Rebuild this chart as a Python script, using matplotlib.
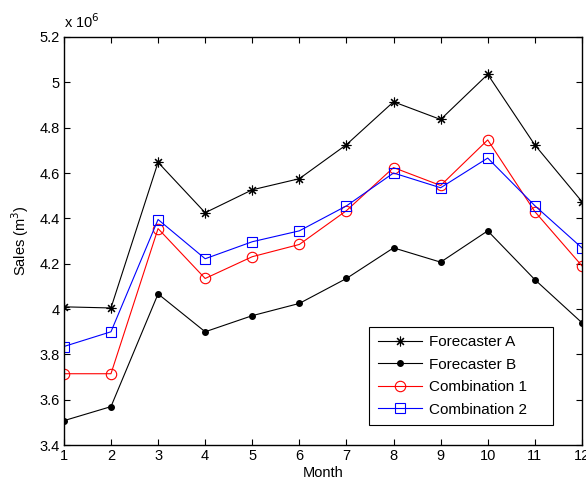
import numpy as np
import matplotlib
matplotlib.use("Agg")
import matplotlib.pyplot as plt
from matplotlib.ticker import FuncFormatter

plt.rcParams['font.family'] = ['Liberation Sans', 'DejaVu Sans']

# sales in units of 1e6 m^3
months = np.arange(1, 13)
forecaster_a = [4.01, 4.005, 4.647, 4.425, 4.526, 4.575, 4.725, 4.914, 4.836, 5.035, 4.724, 4.474]
forecaster_b = [3.508, 3.57, 4.067, 3.90, 3.971, 4.025, 4.135, 4.27, 4.207, 4.345, 4.13, 3.94]
combination_1 = [3.715, 3.715, 4.355, 4.135, 4.231, 4.285, 4.434, 4.624, 4.545, 4.746, 4.43, 4.191]
combination_2 = [3.835, 3.90, 4.395, 4.222, 4.297, 4.345, 4.455, 4.60, 4.535, 4.666, 4.456, 4.27]
series_names = ['Forecaster A', 'Forecaster B', 'Combination 1', 'Combination 2']

fig = plt.figure(figsize=(5.86, 4.86), dpi=100)
ax = fig.add_axes([0.109, 0.084, 0.884, 0.840])

ax.plot(months, forecaster_a, color='black', lw=0.8, marker=(8, 2, 0), ms=7,
        mew=0.8)
ax.plot(months, forecaster_b, color='black', lw=0.8, marker='o', ms=4)
ax.plot(months, combination_1, color='red', lw=0.8, marker='o', ms=7.5,
        mfc='none', mew=0.8)
ax.plot(months, combination_2, color='blue', lw=0.8, marker='s', ms=7.5,
        mfc='none', mew=0.8)

ax.set_xlim(1, 12)
ax.set_ylim(3.4, 5.2)
ax.set_xticks(months)
ax.set_yticks(np.arange(3.4, 5.21, 0.2))
ax.yaxis.set_major_formatter(FuncFormatter(lambda v, p: '%g' % round(v, 1)))
ax.tick_params(direction='in', top=True, right=True, length=4, width=0.8,
               labelsize=10.5, pad=3)
for s in ax.spines.values():
    s.set_linewidth(1.0)

ax.set_xlabel('Month', fontsize=10.5, labelpad=2)
ax.set_ylabel('Sales (m$^3$)', fontsize=10.5, labelpad=6)
ax.text(0.0, 1.015, r'x 10$^6$', transform=ax.transAxes, fontsize=10.5,
        ha='left', va='bottom')

# matlab style legend: extra room on the right of the labels
leg = ax.legend(ax.lines, [n + '    ' for n in series_names],
                loc='lower right', bbox_to_anchor=(0.944, 0.049), borderaxespad=0,
                fancybox=False, edgecolor='black', framealpha=1, fontsize=11,
                handlelength=2.9, handletextpad=0.5, labelspacing=0.56,
                borderpad=0.55)
leg.get_frame().set_linewidth(0.8)

fig.savefig('out.png', dpi=100)
